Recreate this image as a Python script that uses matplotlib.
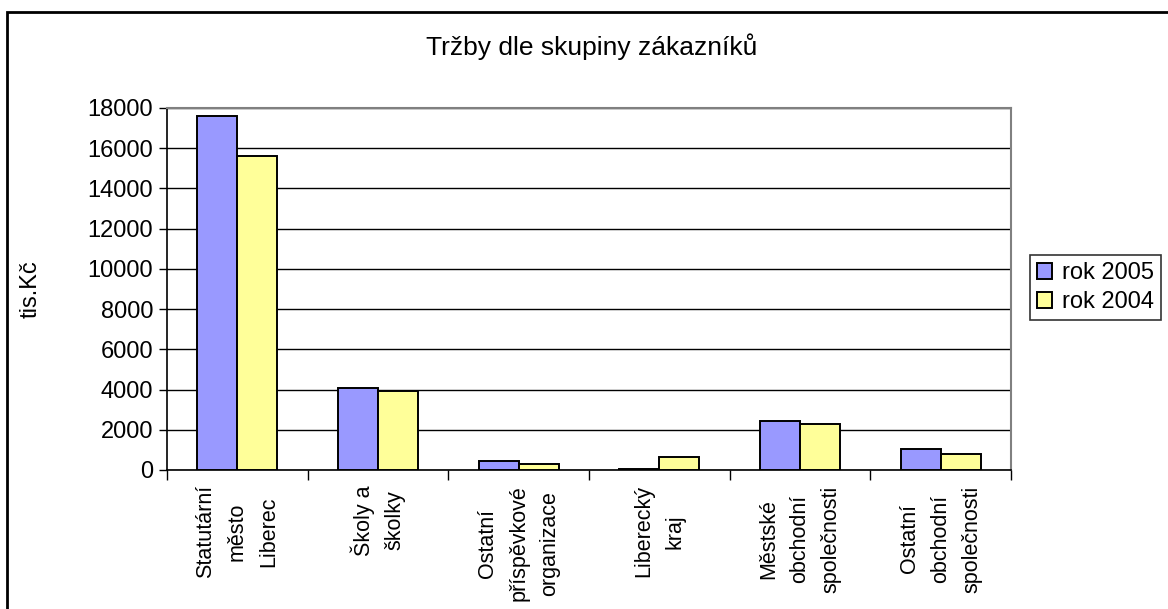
import matplotlib.pyplot as plt
import matplotlib.patches as mpatches
import numpy as np

plt.rcParams['font.family'] = ['Liberation Sans', 'DejaVu Sans']

# data (tis. Kč)
categories = ["Statutární\nměsto\nLiberec", "Školy a\nškolky", "Ostatní\npříspěvkové\norganizace",
              "Liberecký\nkraj", "Městské\nobchodní\nspolečnosti", "Ostatní\nobchodní\nspolečnosti"]
rok_2005 = [17600, 4090, 450, 60, 2440, 1030]
rok_2004 = [15600, 3950, 290, 670, 2300, 800]
series_labels = ["rok 2005", "rok 2004"]
yticks = np.arange(0, 18001, 2000)

fig = plt.figure(figsize=(11.68, 6.09), dpi=100)
ax = fig.add_axes([167/1168, 1 - 470/609, (1011-167)/1168, (470-108)/609])

x = np.arange(len(categories))
w = 0.285
ax.bar(x - w/2, rok_2005, w, color='#9999FF', edgecolor='black', linewidth=1.4, label=series_labels[0], zorder=3)
ax.bar(x + w/2, rok_2004, w, color='#FFFF99', edgecolor='black', linewidth=1.4, label=series_labels[1], zorder=3)

ax.set_xlim(-0.5, len(categories) - 0.5)
ax.set_ylim(0, 18000)
ax.set_yticks(yticks)
ax.set_yticklabels([str(v) for v in yticks], fontsize=17)
ax.yaxis.grid(True, color='black', linewidth=1, zorder=0)
ax.tick_params(axis='y', length=6, width=1, pad=4)

# category labels on major ticks (no mark), tick marks at category boundaries
ax.set_xticks(x)
ax.set_xticklabels(categories, rotation=90, fontsize=15.5, va='top', ha='center',
                   multialignment='center', linespacing=1.65)
ax.tick_params(axis='x', which='major', length=0, pad=11)
ax.set_xticks(np.arange(-0.5, len(categories)), minor=True)
ax.tick_params(axis='x', which='minor', length=7, width=1, direction='out')

for s in ['top', 'right']:
    ax.spines[s].set_color('#808080')
    ax.spines[s].set_linewidth(1.5)
for s in ['left', 'bottom']:
    ax.spines[s].set_color('black')
    ax.spines[s].set_linewidth(1.2)

ax.set_ylabel("tis.Kč", fontsize=17)
ax.yaxis.set_label_coords(-125/844, 0.5)

fig.text(592/1168, 1 - 47/609, "Tržby dle skupiny zákazníků", fontsize=19, ha='center', va='center')

leg = fig.legend(loc='upper left', bbox_to_anchor=(1030/1168, 1 - 255/609), fontsize=17,
                 frameon=True, fancybox=False, edgecolor='black', handlelength=0.65, handleheight=0.65,
                 handletextpad=0.4, borderpad=0.3, labelspacing=0.3, borderaxespad=0)
leg.get_frame().set_linewidth(1.2)

# outer chart border
fig.patches.append(mpatches.Rectangle((7/1168, -0.1), 1.2, 1 - 12/609 + 0.1, transform=fig.transFigure,
                                      fill=False, edgecolor='black', linewidth=2, clip_on=False))

fig.savefig("out.png", dpi=100)
